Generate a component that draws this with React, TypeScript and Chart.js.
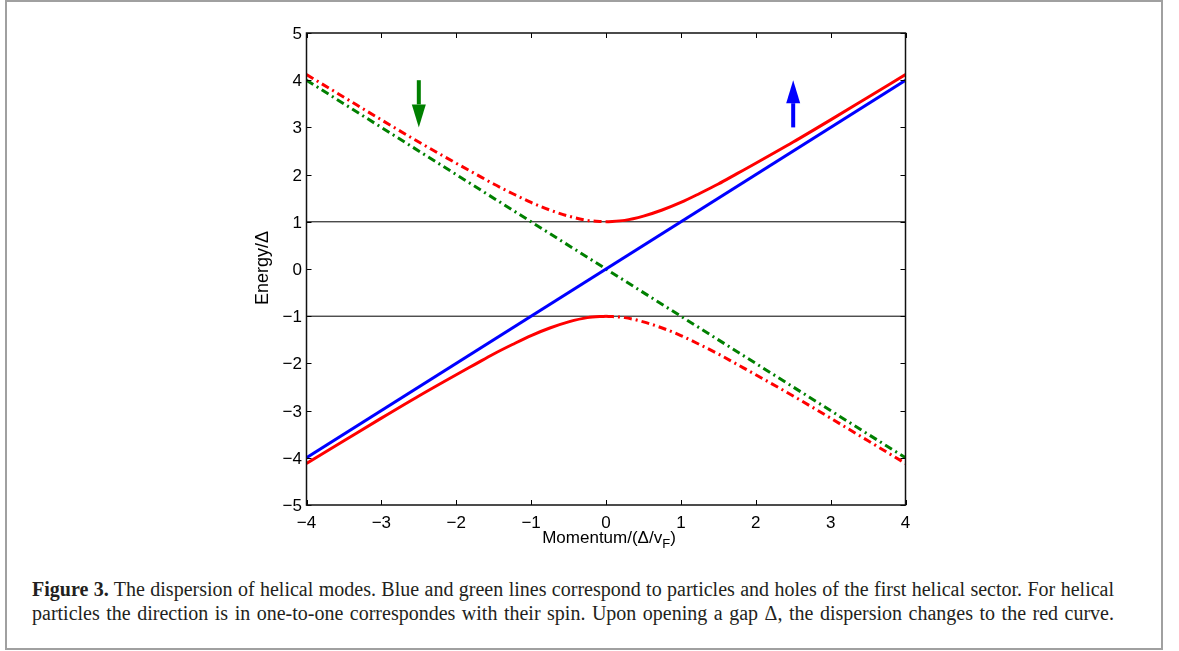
import React, { useEffect, useRef } from "react";
import { Chart, registerables } from "chart.js";

Chart.register(...registerables);

// ---- data ----
const kGap = [0, 0.25, 0.5, 0.75, 1, 1.25, 1.5, 1.75, 2, 2.5, 3, 3.5, 4];
const eGap = [1.0, 1.03, 1.12, 1.25, 1.41, 1.6, 1.8, 2.02, 2.24, 2.69, 3.16, 3.64, 4.12];
const kLine = [-4, 4];
const eParticle = [-4, 4];
const eHole = [4, -4];
const eLevelUp = [1, 1];
const eLevelDown = [-1, -1];
const xTicks = [-4, -3, -2, -1, 0, 1, 2, 3, 4];
const yTicks = [-5, -4, -3, -2, -1, 0, 1, 2, 3, 4, 5];
const arrowX = [-2.5, 2.5];
const arrowFrom = [4, 3];
const arrowTo = [3, 4];
const arrowColors = ["#008000", "#0000ff"];

const RED = "#ff0000";
const BLUE = "#0000ff";
const GREEN = "#008000";
const DASHDOT = [8, 4, 2, 4];
const SANS = "'Liberation Sans', Arial, sans-serif";

const pts = (xs: number[], ys: number[]) => xs.map((x, i) => ({ x, y: ys[i] }));
const fmt = (v: number) => (v < 0 ? "\u2212" + Math.abs(v) : String(v));

const decorPlugin = {
  id: "decor",
  afterDraw(chart: any) {
    const { ctx, chartArea: a, scales } = chart;
    const xs = scales.x;
    const ys = scales.y;
    ctx.save();
    // inner ticks
    ctx.strokeStyle = "#000";
    ctx.lineWidth = 1;
    const tl = 5;
    ctx.beginPath();
    xTicks.forEach((v) => {
      const px = Math.round(xs.getPixelForValue(v)) + 0.5;
      ctx.moveTo(px, a.bottom);
      ctx.lineTo(px, a.bottom - tl);
      ctx.moveTo(px, a.top);
      ctx.lineTo(px, a.top + tl);
    });
    yTicks.forEach((v) => {
      const py = Math.round(ys.getPixelForValue(v)) + 0.5;
      ctx.moveTo(a.left, py);
      ctx.lineTo(a.left + tl, py);
      ctx.moveTo(a.right, py);
      ctx.lineTo(a.right - tl, py);
    });
    ctx.stroke();
    // box
    ctx.lineWidth = 1.5;
    ctx.strokeStyle = "#111";
    ctx.strokeRect(a.left, a.top, a.right - a.left, a.bottom - a.top);
    // arrows
    arrowX.forEach((xv, i) => {
      const px = xs.getPixelForValue(xv);
      const y0 = ys.getPixelForValue(arrowFrom[i]);
      const y1 = ys.getPixelForValue(arrowTo[i]);
      const dir = Math.sign(y1 - y0);
      const headLen = 23;
      const headHalf = 7;
      const yBase = y1 - dir * headLen;
      ctx.fillStyle = arrowColors[i];
      ctx.fillRect(px - 2, Math.min(y0, yBase), 4, Math.abs(yBase - y0));
      ctx.beginPath();
      ctx.moveTo(px - headHalf, yBase);
      ctx.lineTo(px + headHalf, yBase);
      ctx.lineTo(px, y1);
      ctx.closePath();
      ctx.fill();
    });
    // tick labels
    ctx.fillStyle = "#000";
    ctx.textBaseline = "alphabetic";
    ctx.font = "17px " + SANS;
    ctx.textAlign = "center";
    xTicks.forEach((v) => {
      ctx.fillText(fmt(v), xs.getPixelForValue(v), a.bottom + 23);
    });
    ctx.textAlign = "right";
    yTicks.forEach((v) => {
      ctx.fillText(fmt(v), a.left - 4.5, ys.getPixelForValue(v) + 6);
    });
    // axis titles
    const big = "17px " + SANS;
    const small = "13px " + SANS;
    ctx.font = big;
    const p1 = "Momentum/(\u0394/v";
    const sub = "F";
    const p3 = ")";
    const w1 = ctx.measureText(p1).width;
    ctx.font = small;
    const w2 = ctx.measureText(sub).width;
    ctx.font = big;
    const w3 = ctx.measureText(p3).width;
    const cx = (a.left + a.right) / 2 + 3;
    let sx = cx - (w1 + w2 + w3) / 2;
    const by = 543;
    ctx.textAlign = "left";
    ctx.fillText(p1, sx, by);
    sx += w1;
    ctx.font = small;
    ctx.fillText(sub, sx, by + 5);
    sx += w2;
    ctx.font = big;
    ctx.fillText(p3, sx, by);
    // y title
    ctx.font = "18px " + SANS;
    ctx.translate(268, 268);
    ctx.rotate(-Math.PI / 2);
    ctx.textAlign = "center";
    ctx.fillText("Energy/\u0394", 0, 0);
    ctx.restore();
  },
};

const line1 = "The dispersion of helical modes. Blue and green lines correspond to particles and holes of the first helical sector. For helical";
const line2 = "particles the direction is in one-to-one correspondes with their spin. Upon opening a gap \u0394, the dispersion changes to the red curve.";

export default function App() {
  const ref = useRef<HTMLCanvasElement | null>(null);
  useEffect(() => {
    const cv = ref.current;
    if (!cv) return;
    const negK = kGap.map((k) => -k).reverse();
    const eRev = [...eGap].reverse();
    const chart = new Chart(cv, {
      type: "scatter",
      data: {
        datasets: [
          { data: pts(kGap, eGap), borderColor: RED, borderWidth: 3, cubicInterpolationMode: "monotone" },
          { data: pts(negK, eRev), borderColor: RED, borderWidth: 3, borderDash: DASHDOT, cubicInterpolationMode: "monotone" },
          { data: pts(negK, eRev.map((e) => -e)), borderColor: RED, borderWidth: 3, cubicInterpolationMode: "monotone" },
          { data: pts(kGap, eGap.map((e) => -e)), borderColor: RED, borderWidth: 3, borderDash: DASHDOT, cubicInterpolationMode: "monotone" },
          { data: pts(kLine, eParticle), borderColor: BLUE, borderWidth: 3 },
          { data: pts(kLine, eHole), borderColor: GREEN, borderWidth: 3, borderDash: DASHDOT },
          { data: pts(kLine, eLevelUp), borderColor: "#000", borderWidth: 1 },
          { data: pts(kLine, eLevelDown), borderColor: "#000", borderWidth: 1 },
        ] as any,
      },
      options: {
        animation: false,
        responsive: false,
        devicePixelRatio: 1,
        showLine: true,
        elements: { point: { radius: 0, hoverRadius: 0 }, line: { borderCapStyle: "butt" } },
        layout: { padding: { left: 256.5, right: 273.5, top: 33, bottom: 15 } },
        plugins: { legend: { display: false }, tooltip: { enabled: false } },
        events: [],
        scales: {
          x: {
            type: "linear",
            min: -4,
            max: 4,
            afterFit: (s: any) => { s.height = 40; },
            grid: { display: false, drawTicks: false },
            border: { display: false },
            ticks: { display: false, stepSize: 1 },
          },
          y: {
            type: "linear",
            min: -5,
            max: 5,
            afterFit: (s: any) => { s.width = 50; },
            grid: { display: false, drawTicks: false },
            border: { display: false },
            ticks: { display: false, stepSize: 1 },
          },
        },
      } as any,
      plugins: [decorPlugin],
    });
    return () => chart.destroy();
  }, []);

  const lineStyle: React.CSSProperties = { width: 1082, textAlign: "justify", textAlignLast: "justify", whiteSpace: "normal" } as any;

  return (
    <div>
      <style>{"body{margin:0;background:#fff;}"}</style>
      <div style={{ position: "absolute", left: 5, top: 0, width: 1158, height: 650, boxSizing: "border-box", border: "2px solid #a0a0a0" }} />
      <canvas ref={ref} width={1179} height={560} style={{ position: "absolute", left: 0, top: 0, width: 1179, height: 560 }} />
      <div style={{ position: "absolute", left: 32, top: 577, fontFamily: "'Liberation Serif', 'Times New Roman', serif", fontSize: 20, lineHeight: "24px", color: "#231f20" }}>
        <div style={lineStyle}>
          <b>Figure 3.</b> {line1}
        </div>
        <div style={lineStyle}>{line2}</div>
      </div>
    </div>
  );
}
